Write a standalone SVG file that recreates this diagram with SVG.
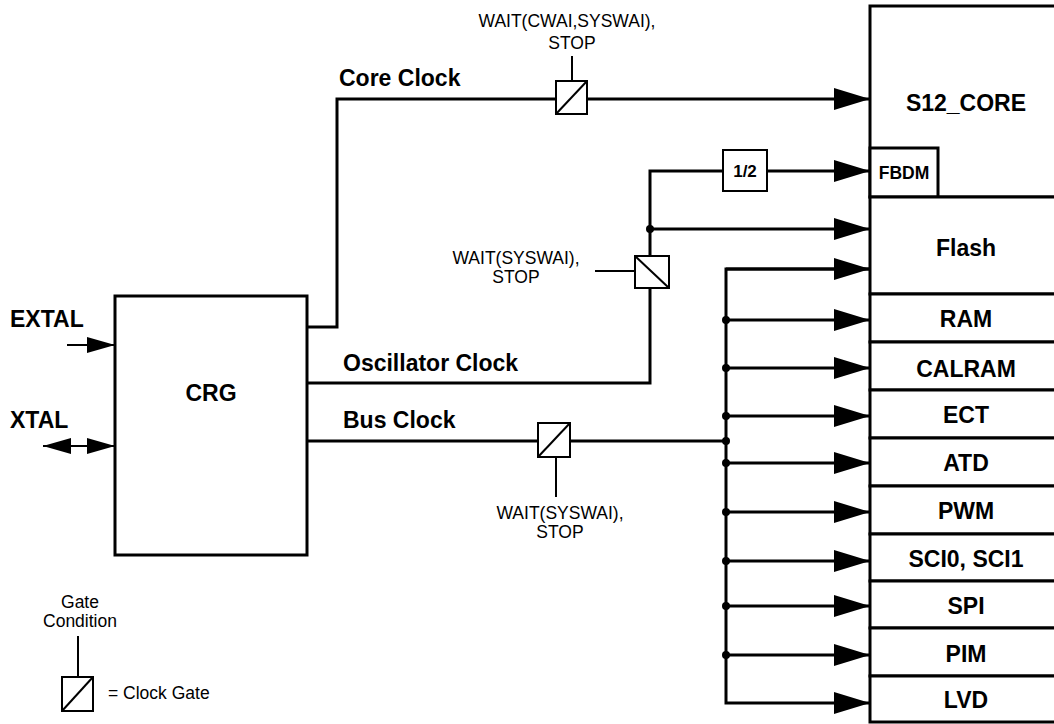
<svg xmlns="http://www.w3.org/2000/svg" width="1054" height="724" viewBox="0 0 1054 724">
<style>
  .bold { font-family: "Liberation Sans", Arial, Helvetica, sans-serif; font-weight: bold; font-size: 23px; fill: #000; }
  .small { font-family: "Liberation Sans", Arial, Helvetica, sans-serif; font-size: 17.5px; fill: #000; }
  .mid { text-anchor: middle; }
  .box { fill: #fff; stroke: #000; stroke-width: 3; }
  .gate { fill: #fff; stroke: #000; stroke-width: 2; }
  .wire { fill: none; stroke: #000; stroke-width: 3; }
  .thin { fill: none; stroke: #000; stroke-width: 2; }
  .dot { fill: #000; }
</style>
<defs>
  <marker id="big" markerUnits="userSpaceOnUse" markerWidth="36" markerHeight="22" refX="36" refY="11" orient="auto">
    <path d="M0,0 L36,11 L0,22 Z" fill="#000"/>
  </marker>
  <marker id="sm" markerUnits="userSpaceOnUse" markerWidth="28" markerHeight="16" refX="28" refY="8" orient="auto">
    <path d="M0,0 L28,8 L0,16 Z" fill="#000"/>
  </marker>
</defs>
<rect width="1054" height="724" fill="#fff"/>

<g id="connectors">
  <!-- Core clock -->
  <path class="wire" d="M307,327 H337 V99 H556"/>
  <path class="wire" d="M587,99 H870" marker-end="url(#big)"/>
  <!-- Oscillator clock -->
  <path class="wire" d="M307,383 H650 V288"/>
  <path class="wire" d="M650,256 V171 H723"/>
  <path class="wire" d="M767,171 H870" marker-end="url(#big)"/>
  <path class="wire" d="M650,229 H870" marker-end="url(#big)"/>
  <circle class="dot" cx="650" cy="229" r="4"/>
  <!-- Bus clock -->
  <path class="wire" d="M307,441 H538"/>
  <path class="wire" d="M570,441 H726"/>
  <path class="wire" d="M870,269 H726 V703 H870" marker-end="url(#big)"/>
  <path class="wire" d="M726,269 H870" marker-end="url(#big)"/>
  <path class="wire" d="M726,320 H870" marker-end="url(#big)"/>
  <path class="wire" d="M726,368 H870" marker-end="url(#big)"/>
  <path class="wire" d="M726,416 H870" marker-end="url(#big)"/>
  <path class="wire" d="M726,463 H870" marker-end="url(#big)"/>
  <path class="wire" d="M726,512 H870" marker-end="url(#big)"/>
  <path class="wire" d="M726,561 H870" marker-end="url(#big)"/>
  <path class="wire" d="M726,606 H870" marker-end="url(#big)"/>
  <path class="wire" d="M726,655 H870" marker-end="url(#big)"/>
  <circle class="dot" cx="726" cy="320" r="4"/>
  <circle class="dot" cx="726" cy="368" r="4"/>
  <circle class="dot" cx="726" cy="416" r="4"/>
  <circle class="dot" cx="726" cy="441" r="4"/>
  <circle class="dot" cx="726" cy="463" r="4"/>
  <circle class="dot" cx="726" cy="512" r="4"/>
  <circle class="dot" cx="726" cy="561" r="4"/>
  <circle class="dot" cx="726" cy="606" r="4"/>
  <circle class="dot" cx="726" cy="655" r="4"/>
  <!-- EXTAL / XTAL -->
  <path class="thin" d="M67,345 H115" marker-end="url(#sm)"/>
  <path class="thin" d="M80,446 H115" marker-end="url(#sm)"/>
  <path class="thin" d="M80,446 H43" marker-end="url(#sm)"/>
  <!-- gate stems -->
  <path class="thin" d="M572,56 V81"/>
  <path class="thin" d="M595,271 H635"/>
  <path class="thin" d="M556,457 V497"/>
</g>

<g id="labels">
  <text class="bold" x="339" y="86">Core Clock</text>
  <text class="bold" x="343" y="371">Oscillator Clock</text>
  <text class="bold" x="343" y="428">Bus Clock</text>
  <text class="bold" x="10" y="327">EXTAL</text>
  <text class="bold" x="10" y="428">XTAL</text>
</g>

<g id="gate-core">
  <rect class="gate" x="556" y="81" width="31" height="33"/>
  <path class="thin" d="M556,114 L587,81"/>
  <text class="small mid" x="567" y="27">WAIT(CWAI,SYSWAI),</text>
  <text class="small mid" x="572" y="49">STOP</text>
</g>

<g id="gate-osc">
  <rect class="gate" x="635" y="256" width="34" height="32"/>
  <path class="thin" d="M635,256 L669,288"/>
  <text class="small mid" x="516" y="264">WAIT(SYSWAI),</text>
  <text class="small mid" x="516" y="283">STOP</text>
</g>

<g id="gate-bus">
  <rect class="gate" x="538" y="423" width="32" height="34"/>
  <path class="thin" d="M538,457 L570,423"/>
  <text class="small mid" x="560" y="519">WAIT(SYSWAI),</text>
  <text class="small mid" x="560" y="538">STOP</text>
</g>

<g id="div2">
  <rect class="gate" x="723" y="150" width="44" height="41"/>
  <text class="bold mid" x="745" y="177" style="font-size:17px">1/2</text>
</g>

<g id="crg">
  <rect class="box" x="115" y="296" width="192" height="259"/>
  <text class="bold mid" x="211" y="401">CRG</text>
</g>

<g id="s12core">
  <rect class="box" x="870" y="6" width="200" height="191"/>
  <text class="bold mid" x="966" y="111">S12_CORE</text>
</g>
<g id="fbdm">
  <rect class="box" x="870" y="148" width="68" height="49"/>
  <text class="bold mid" x="904" y="179" style="font-size:17.5px">FBDM</text>
</g>
<g id="flash">
  <rect class="box" x="870" y="197" width="200" height="97"/>
  <text class="bold mid" x="966" y="256">Flash</text>
</g>
<g id="ram">
  <rect class="box" x="870" y="294" width="200" height="48"/>
  <text class="bold mid" x="966" y="327">RAM</text>
</g>
<g id="calram">
  <rect class="box" x="870" y="342" width="200" height="48"/>
  <text class="bold mid" x="966" y="377">CALRAM</text>
</g>
<g id="ect">
  <rect class="box" x="870" y="390" width="200" height="48"/>
  <text class="bold mid" x="966" y="423">ECT</text>
</g>
<g id="atd">
  <rect class="box" x="870" y="438" width="200" height="48"/>
  <text class="bold mid" x="966" y="471">ATD</text>
</g>
<g id="pwm">
  <rect class="box" x="870" y="486" width="200" height="48"/>
  <text class="bold mid" x="966" y="519">PWM</text>
</g>
<g id="sci">
  <rect class="box" x="870" y="534" width="200" height="47"/>
  <text class="bold mid" x="966" y="567">SCI0, SCI1</text>
</g>
<g id="spi">
  <rect class="box" x="870" y="581" width="200" height="47"/>
  <text class="bold mid" x="966" y="614">SPI</text>
</g>
<g id="pim">
  <rect class="box" x="870" y="628" width="200" height="48"/>
  <text class="bold mid" x="966" y="662">PIM</text>
</g>
<g id="lvd">
  <rect class="box" x="870" y="676" width="200" height="46"/>
  <text class="bold mid" x="966" y="708">LVD</text>
</g>

<g id="legend">
  <text class="small mid" x="80" y="608">Gate</text>
  <text class="small mid" x="80" y="627">Condition</text>
  <path class="thin" d="M78,636 V677"/>
  <rect class="gate" x="62" y="677" width="31" height="34"/>
  <path class="thin" d="M62,711 L93,677"/>
  <text class="small" x="108" y="699">= Clock Gate</text>
</g>
</svg>
